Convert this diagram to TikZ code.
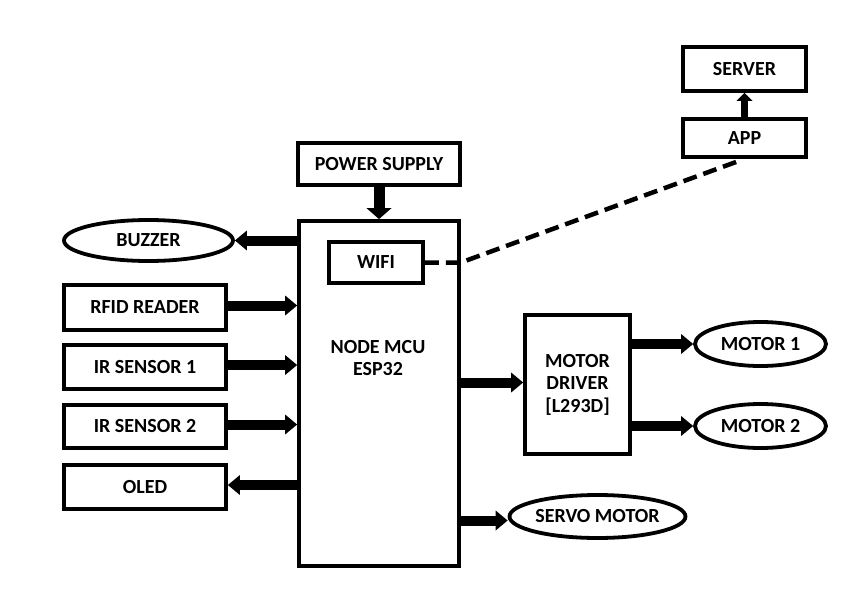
\documentclass[tikz,border=0pt]{standalone}
\usepackage{fontspec}
\setmainfont{Carlito}
\usetikzlibrary{shapes.geometric,arrows.meta}
\begin{document}
\begin{tikzpicture}[x=1pt,y=-1pt,
  every node/.style={font=\fontsize{20}{22.5}\selectfont\bfseries, inner sep=0pt, align=center},
  box/.style={draw, rectangle, line width=3.8pt},
  oval/.style={draw, ellipse, line width=3.8pt},
  bigarrow/.style={line width=10pt, -{Triangle[length=12pt,width=20pt,line width=0pt]}},
  psarrow/.style={line width=11pt, -{Triangle[length=11pt,width=25pt,line width=0pt]}},
  smallarrow/.style={line width=7pt, -{Triangle[length=8pt,width=16pt,line width=0pt]}},
  link/.style={line width=4.5pt, dash pattern=on 14pt off 7pt}]
\useasboundingbox[fill=white] (0,0) rectangle (867,594);

\node[box, minimum width=162pt, minimum height=42pt] (ps) at (379,164) {POWER SUPPLY};
\node[box, minimum width=160pt, minimum height=345pt] (mcu) at (379,393.5) {};
\node (mcutext) at (378,358) {NODE MCU\\ESP32};
\node[box, minimum width=94pt, minimum height=41pt] (wifi) at (376,262.5) {WIFI};

\node[oval, minimum width=169pt, minimum height=41pt] (buzzer) at (148.5,240.5) {BUZZER};
\node[box, minimum width=162pt, minimum height=45pt] (rfid) at (145,307.5) {RFID READER};
\node[box, minimum width=162pt, minimum height=44pt] (ir1) at (145,367) {IR SENSOR 1};
\node[box, minimum width=162pt, minimum height=43pt] (ir2) at (145,426.5) {IR SENSOR 2};
\node[box, minimum width=162pt, minimum height=44pt] (oled) at (145,487) {OLED};

\node[box, minimum width=105pt, minimum height=139pt] (driver) at (577.5,384.5) {MOTOR\\DRIVER\\{[L293D]}};
\node[oval, minimum width=131pt, minimum height=44pt] (m1) at (760.5,344) {MOTOR 1};
\node[oval, minimum width=131pt, minimum height=44pt] (m2) at (760.5,426) {MOTOR 2};
\node[oval, minimum width=171pt, minimum height=43pt] (servo) at (597.5,516.5) {SERVO MOTOR};

\node[box, minimum width=123pt, minimum height=44pt] (server) at (744.5,69) {SERVER};
\node[box, minimum width=123pt, minimum height=38pt] (app) at (744.5,138) {APP};

\draw[psarrow] (ps.south) -- (mcu.north);
\draw[bigarrow] (mcu.west |- buzzer.east) -- (buzzer.east);
\draw[bigarrow] ([yshift=2pt]rfid.east) -- ([yshift=2pt]rfid.east -| mcu.west);
\draw[bigarrow] ([yshift=2pt]ir1.east) -- ([yshift=2pt]ir1.east -| mcu.west);
\draw[bigarrow] ([yshift=2pt]ir2.east) -- ([yshift=2pt]ir2.east -| mcu.west);
\draw[bigarrow] ([yshift=2pt]mcu.west |- oled.east) -- ([yshift=2pt]oled.east);
\draw[bigarrow] ([yshift=2pt]mcu.east |- driver.west) -- ([yshift=2pt]driver.west);
\draw[bigarrow] (driver.east |- m1.west) -- (m1.west);
\draw[bigarrow] (driver.east |- m2.west) -- (m2.west);
\draw[bigarrow] ([yshift=-4pt]mcu.east |- servo.west) -- ([yshift=-4pt]servo.west);
\draw[smallarrow] (app.north) -- (server.south);
\draw[link, shorten >=3pt] (wifi.east) -- (wifi.east -| mcu.east) -- (app.south);
\end{tikzpicture}
\end{document}
